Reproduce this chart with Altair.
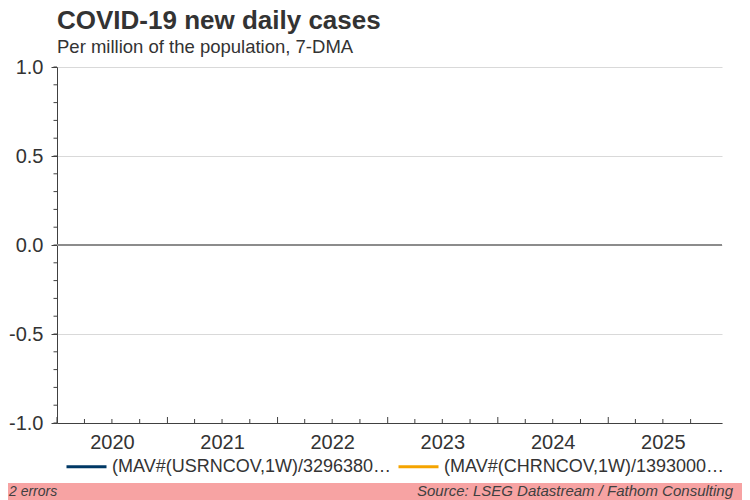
import altair as alt
import pandas as pd

# ---- content -------------------------------------------------------------
title_text = "COVID-19 new daily cases"
subtitle_text = "Per million of the population, 7-DMA"
series_names = ["(MAV#(USRNCOV,1W)/3296380…", "(MAV#(CHRNCOV,1W)/1393000…"]
series_colors = ["#003865", "#f5a400"]
# both series failed to load in the source chart ("2 errors"): no values
dates = ["2020-01-01", "2026-01-13"]
us_values = [None, None]
cn_values = [None, None]
year_labels = [2020, 2021, 2022, 2023, 2024, 2025]
y_major = [-1.0, -0.5, 0.0, 0.5, 1.0]
y_minor = [round(-1 + 0.1 * i, 1) for i in range(21)]
quarter_ticks = [f"{y}-{m:02d}-01" for y in year_labels for m in (4, 7, 10)]
year_ticks = [f"{y}-01-01" for y in year_labels]
source_text = "Source: LSEG Datastream / Fathom Consulting"
errors_text = "2 errors"

# ---- layout ---------------------------------------------------------------
W, H = 665, 356
FONT = "Liberation Sans, Arial, sans-serif"
TXT = "#333333"
AX = "#404040"

df = pd.DataFrame({
    "date": dates + dates,
    "value": us_values + cn_values,
    "series": [series_names[0]] * len(dates) + [series_names[1]] * len(dates),
})

x_scale = alt.Scale(domain=[alt.DateTime(year=2020, month=1, date=1),
                            alt.DateTime(year=2026, month=1, date=13)])
y_scale = alt.Scale(domain=[-1, 1], nice=False, zero=False)

x_axis = alt.Axis(values=[alt.DateTime(year=y, month=7, date=1) for y in year_labels],
                  format="%Y", ticks=False, grid=False, labelPadding=9,
                  labelFontSize=20, labelFont=FONT, labelColor=TXT,
                  labelOverlap=False, domainColor=AX, domainWidth=1, title=None)
y_axis = alt.Axis(values=y_major,
                  labelExpr="(datum.value < 0 ? '-' : '') + format(abs(datum.value), '.1f')",
                  tickSize=6, tickColor=AX,
                  gridColor="#d9d9d9", gridWidth=1, domainColor=AX,
                  labelFontSize=20, labelFont=FONT, labelColor=TXT,
                  labelPadding=8, labelOverlap=False, title=None)

lines = alt.Chart(df).mark_line(strokeWidth=3).encode(
    x=alt.X("date:T", scale=x_scale, axis=x_axis),
    y=alt.Y("value:Q", scale=y_scale, axis=y_axis),
    color=alt.Color("series:N",
                    scale=alt.Scale(domain=series_names, range=series_colors),
                    legend=alt.Legend(orient="none", legendX=8, legendY=378,
                                      direction="horizontal", title=None,
                                      symbolType="stroke", symbolSize=1600,
                                      symbolStrokeWidth=3, labelFontSize=18,
                                      labelFont=FONT, labelColor=TXT,
                                      labelLimit=290, columnPadding=0,
                                      labelOffset=4)),
)

zero = alt.Chart(pd.DataFrame({"z": [0]})).mark_rule(
    color="#8c8c8c", strokeWidth=2).encode(y=alt.Y("z:Q", axis=y_axis))

yminor = alt.Chart(pd.DataFrame({"v": y_minor})).mark_rule(
    color=AX, strokeWidth=1).encode(
    y=alt.Y("v:Q", axis=y_axis), x=alt.value(-3.5), x2=alt.value(0))

qticks = alt.Chart(pd.DataFrame({"d": quarter_ticks})).mark_rule(
    color=AX, strokeWidth=1).encode(
    x=alt.X("d:T", axis=x_axis), y=alt.value(H - 4), y2=alt.value(H))
yticks = alt.Chart(pd.DataFrame({"d": year_ticks})).mark_rule(
    color=AX, strokeWidth=1).encode(
    x=alt.X("d:T", axis=x_axis), y=alt.value(H - 6), y2=alt.value(H))

band = alt.Chart(pd.DataFrame({"b": [0]})).mark_rect(color="#f7a3a3").encode(
    x=alt.value(-49), x2=alt.value(W + 20), y=alt.value(416), y2=alt.value(433))

src = alt.Chart(pd.DataFrame({"t": [source_text]})).mark_text(
    align="right", baseline="alphabetic", fontStyle="italic", fontSize=15,
    font=FONT, color=AX).encode(text="t:N", x=alt.value(676), y=alt.value(429))

err = alt.Chart(pd.DataFrame({"t": [errors_text]})).mark_text(
    align="left", baseline="alphabetic", fontStyle="italic", fontSize=14,
    font=FONT, color=AX).encode(text="t:N", x=alt.value(-48), y=alt.value(429))

chart = alt.layer(band, lines, qticks, yticks, yminor, zero, src, err).properties(
    width=W, height=H,
    title=alt.TitleParams(text=title_text, subtitle=subtitle_text, anchor="start",
                          frame="group", font=FONT, fontSize=26, fontWeight="bold",
                          color=TXT, subtitleFont=FONT, subtitleFontSize=18.5,
                          subtitleColor=TXT, subtitlePadding=4, offset=1),
    autosize=alt.AutoSizeParams(type="none"),
    padding={"left": 49, "top": 59, "right": 20, "bottom": 77},
).configure_view(stroke=None)

chart.save("out.html", embed_options={"renderer": "svg", "actions": False})
